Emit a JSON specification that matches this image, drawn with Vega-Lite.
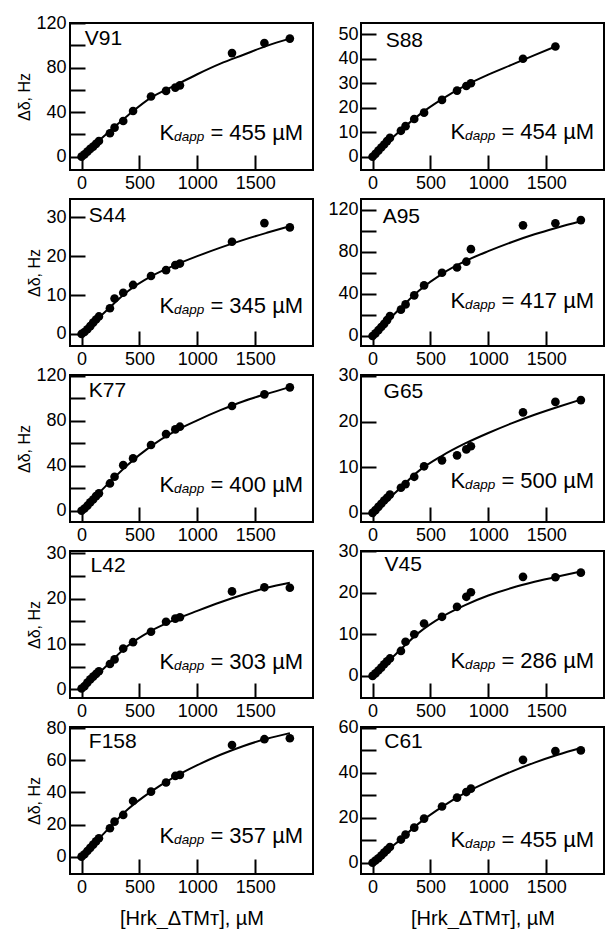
{
"$schema": "https://vega.github.io/schema/vega-lite/v6.json",
"padding": {"left": 15, "top": 13, "right": 0, "bottom": 0},
"columns": 2,
"spacing": {"row": 29, "column": 48},
"bounds": "flush",
"datasets": {
"pts": [
{"p":"V91","c":0,"d":0},{"p":"V91","c":25,"d":2},{"p":"V91","c":50,"d":4.5},{"p":"V91","c":75,"d":7},{"p":"V91","c":100,"d":9},{"p":"V91","c":125,"d":11.5},{"p":"V91","c":150,"d":14},{"p":"V91","c":245,"d":21},{"p":"V91","c":285,"d":26},{"p":"V91","c":360,"d":32},{"p":"V91","c":445,"d":41},{"p":"V91","c":600,"d":54},{"p":"V91","c":730,"d":59},{"p":"V91","c":810,"d":62},{"p":"V91","c":850,"d":64},{"p":"V91","c":1300,"d":93},{"p":"V91","c":1580,"d":102},{"p":"V91","c":1800,"d":106},
{"p":"S88","c":0,"d":0},{"p":"S88","c":25,"d":1.2},{"p":"S88","c":50,"d":2.5},{"p":"S88","c":75,"d":3.8},{"p":"S88","c":100,"d":5},{"p":"S88","c":125,"d":6.4},{"p":"S88","c":150,"d":7.7},{"p":"S88","c":245,"d":10.6},{"p":"S88","c":285,"d":12.5},{"p":"S88","c":360,"d":15.4},{"p":"S88","c":445,"d":18},{"p":"S88","c":600,"d":23.2},{"p":"S88","c":730,"d":27},{"p":"S88","c":810,"d":28.9},{"p":"S88","c":850,"d":30},{"p":"S88","c":1300,"d":40},{"p":"S88","c":1580,"d":45},
{"p":"S44","c":0,"d":0},{"p":"S44","c":25,"d":0.5},{"p":"S44","c":50,"d":1.2},{"p":"S44","c":75,"d":2},{"p":"S44","c":100,"d":2.9},{"p":"S44","c":125,"d":3.7},{"p":"S44","c":150,"d":4.5},{"p":"S44","c":245,"d":6.6},{"p":"S44","c":285,"d":9.1},{"p":"S44","c":360,"d":10.6},{"p":"S44","c":445,"d":12.6},{"p":"S44","c":600,"d":14.9},{"p":"S44","c":730,"d":16.4},{"p":"S44","c":810,"d":17.7},{"p":"S44","c":850,"d":18.1},{"p":"S44","c":1300,"d":23.7},{"p":"S44","c":1580,"d":28.5},{"p":"S44","c":1800,"d":27.4},
{"p":"A95","c":0,"d":0},{"p":"A95","c":25,"d":2.5},{"p":"A95","c":50,"d":5.5},{"p":"A95","c":75,"d":8.5},{"p":"A95","c":100,"d":11.5},{"p":"A95","c":125,"d":15},{"p":"A95","c":150,"d":19},{"p":"A95","c":245,"d":25},{"p":"A95","c":285,"d":30},{"p":"A95","c":360,"d":38.6},{"p":"A95","c":445,"d":48},{"p":"A95","c":600,"d":60},{"p":"A95","c":730,"d":65},{"p":"A95","c":810,"d":70.5},{"p":"A95","c":850,"d":82.4},{"p":"A95","c":1300,"d":105},{"p":"A95","c":1580,"d":107},{"p":"A95","c":1800,"d":110},
{"p":"K77","c":0,"d":0},{"p":"K77","c":25,"d":2},{"p":"K77","c":50,"d":4.5},{"p":"K77","c":75,"d":7.5},{"p":"K77","c":100,"d":10},{"p":"K77","c":125,"d":13},{"p":"K77","c":150,"d":15.5},{"p":"K77","c":245,"d":24.3},{"p":"K77","c":285,"d":30.3},{"p":"K77","c":360,"d":40.6},{"p":"K77","c":445,"d":46.6},{"p":"K77","c":600,"d":58.5},{"p":"K77","c":730,"d":68.2},{"p":"K77","c":810,"d":72.4},{"p":"K77","c":850,"d":74.8},{"p":"K77","c":1300,"d":93.2},{"p":"K77","c":1580,"d":103.6},{"p":"K77","c":1800,"d":109.8},
{"p":"G65","c":0,"d":0},{"p":"G65","c":25,"d":0.6},{"p":"G65","c":50,"d":1.3},{"p":"G65","c":75,"d":2},{"p":"G65","c":100,"d":2.7},{"p":"G65","c":125,"d":3.3},{"p":"G65","c":150,"d":4},{"p":"G65","c":245,"d":5.5},{"p":"G65","c":285,"d":6.3},{"p":"G65","c":360,"d":7.9},{"p":"G65","c":445,"d":10.2},{"p":"G65","c":600,"d":11.5},{"p":"G65","c":730,"d":12.6},{"p":"G65","c":810,"d":13.9},{"p":"G65","c":850,"d":14.6},{"p":"G65","c":1300,"d":22},{"p":"G65","c":1580,"d":24.3},{"p":"G65","c":1800,"d":24.7},
{"p":"L42","c":0,"d":0.2},{"p":"L42","c":25,"d":0.7},{"p":"L42","c":50,"d":1.5},{"p":"L42","c":75,"d":2.2},{"p":"L42","c":100,"d":2.8},{"p":"L42","c":125,"d":3.4},{"p":"L42","c":150,"d":4},{"p":"L42","c":245,"d":5.6},{"p":"L42","c":285,"d":6.6},{"p":"L42","c":360,"d":9},{"p":"L42","c":445,"d":10.4},{"p":"L42","c":600,"d":12.7},{"p":"L42","c":730,"d":14.9},{"p":"L42","c":810,"d":15.6},{"p":"L42","c":850,"d":15.9},{"p":"L42","c":1300,"d":21.6},{"p":"L42","c":1580,"d":22.5},{"p":"L42","c":1800,"d":22.4},
{"p":"V45","c":0,"d":0},{"p":"V45","c":25,"d":0.6},{"p":"V45","c":50,"d":1.3},{"p":"V45","c":75,"d":2},{"p":"V45","c":100,"d":2.8},{"p":"V45","c":125,"d":3.5},{"p":"V45","c":150,"d":4.2},{"p":"V45","c":245,"d":6},{"p":"V45","c":285,"d":8.2},{"p":"V45","c":360,"d":10},{"p":"V45","c":445,"d":12.6},{"p":"V45","c":600,"d":14.2},{"p":"V45","c":730,"d":16.6},{"p":"V45","c":810,"d":19},{"p":"V45","c":850,"d":20.1},{"p":"V45","c":1300,"d":23.8},{"p":"V45","c":1580,"d":23.7},{"p":"V45","c":1800,"d":24.8},
{"p":"F158","c":0,"d":0},{"p":"F158","c":25,"d":1.5},{"p":"F158","c":50,"d":3.5},{"p":"F158","c":75,"d":5.5},{"p":"F158","c":100,"d":7.5},{"p":"F158","c":125,"d":9.5},{"p":"F158","c":150,"d":11.5},{"p":"F158","c":245,"d":17.7},{"p":"F158","c":285,"d":21.8},{"p":"F158","c":360,"d":26},{"p":"F158","c":445,"d":34.7},{"p":"F158","c":600,"d":40.5},{"p":"F158","c":730,"d":46.2},{"p":"F158","c":810,"d":50.3},{"p":"F158","c":850,"d":51},{"p":"F158","c":1300,"d":69.6},{"p":"F158","c":1580,"d":73.2},{"p":"F158","c":1800,"d":73.8},
{"p":"C61","c":0,"d":0},{"p":"C61","c":25,"d":1},{"p":"C61","c":50,"d":2},{"p":"C61","c":75,"d":3.2},{"p":"C61","c":100,"d":4.5},{"p":"C61","c":125,"d":5.7},{"p":"C61","c":150,"d":7},{"p":"C61","c":245,"d":10.3},{"p":"C61","c":285,"d":12.5},{"p":"C61","c":360,"d":15.6},{"p":"C61","c":445,"d":19.6},{"p":"C61","c":600,"d":25},{"p":"C61","c":730,"d":28.9},{"p":"C61","c":810,"d":31.4},{"p":"C61","c":850,"d":32.9},{"p":"C61","c":1300,"d":45.7},{"p":"C61","c":1580,"d":49.6},{"p":"C61","c":1800,"d":49.9}
],
"fit": [
{"p":"V91","c":0,"d":0},{"p":"V91","c":200,"d":19},{"p":"V91","c":400,"d":37},{"p":"V91","c":600,"d":53},{"p":"V91","c":800,"d":63.5},{"p":"V91","c":1000,"d":74},{"p":"V91","c":1200,"d":83.5},{"p":"V91","c":1400,"d":91.5},{"p":"V91","c":1600,"d":99.5},{"p":"V91","c":1800,"d":106},
{"p":"S88","c":0,"d":0},{"p":"S88","c":200,"d":9},{"p":"S88","c":400,"d":17},{"p":"S88","c":600,"d":23.5},{"p":"S88","c":800,"d":29},{"p":"S88","c":1000,"d":33.5},{"p":"S88","c":1200,"d":37.5},{"p":"S88","c":1400,"d":41.5},{"p":"S88","c":1580,"d":45},
{"p":"S44","c":0,"d":0},{"p":"S44","c":200,"d":5.6},{"p":"S44","c":400,"d":11},{"p":"S44","c":600,"d":14.8},{"p":"S44","c":800,"d":17.6},{"p":"S44","c":1000,"d":20},{"p":"S44","c":1200,"d":22.2},{"p":"S44","c":1400,"d":24.2},{"p":"S44","c":1600,"d":26},{"p":"S44","c":1800,"d":27.7},
{"p":"A95","c":0,"d":0},{"p":"A95","c":200,"d":22},{"p":"A95","c":400,"d":43},{"p":"A95","c":600,"d":59},{"p":"A95","c":800,"d":71},{"p":"A95","c":1000,"d":80.5},{"p":"A95","c":1200,"d":89},{"p":"A95","c":1400,"d":96.5},{"p":"A95","c":1600,"d":103},{"p":"A95","c":1800,"d":109},
{"p":"K77","c":0,"d":0},{"p":"K77","c":200,"d":21},{"p":"K77","c":400,"d":41},{"p":"K77","c":600,"d":57.5},{"p":"K77","c":800,"d":70.5},{"p":"K77","c":1000,"d":80.5},{"p":"K77","c":1200,"d":89.5},{"p":"K77","c":1400,"d":97.5},{"p":"K77","c":1600,"d":104},{"p":"K77","c":1800,"d":110},
{"p":"G65","c":0,"d":0},{"p":"G65","c":200,"d":4.5},{"p":"G65","c":400,"d":9.2},{"p":"G65","c":600,"d":12.5},{"p":"G65","c":800,"d":15.2},{"p":"G65","c":1000,"d":17.5},{"p":"G65","c":1200,"d":19.6},{"p":"G65","c":1400,"d":21.5},{"p":"G65","c":1600,"d":23.2},{"p":"G65","c":1800,"d":24.8},
{"p":"L42","c":0,"d":0},{"p":"L42","c":200,"d":4.8},{"p":"L42","c":400,"d":9.6},{"p":"L42","c":600,"d":12.9},{"p":"L42","c":800,"d":15.3},{"p":"L42","c":1000,"d":17.3},{"p":"L42","c":1200,"d":19.2},{"p":"L42","c":1400,"d":20.9},{"p":"L42","c":1600,"d":22.4},{"p":"L42","c":1800,"d":23.5},
{"p":"V45","c":0,"d":0},{"p":"V45","c":200,"d":5.2},{"p":"V45","c":400,"d":10.4},{"p":"V45","c":600,"d":14.2},{"p":"V45","c":800,"d":17},{"p":"V45","c":1000,"d":19.3},{"p":"V45","c":1200,"d":21.1},{"p":"V45","c":1400,"d":22.6},{"p":"V45","c":1600,"d":23.9},{"p":"V45","c":1800,"d":25.1},
{"p":"F158","c":0,"d":0},{"p":"F158","c":200,"d":15},{"p":"F158","c":400,"d":29.5},{"p":"F158","c":600,"d":40.5},{"p":"F158","c":800,"d":49.5},{"p":"F158","c":1000,"d":57},{"p":"F158","c":1200,"d":63.5},{"p":"F158","c":1400,"d":69},{"p":"F158","c":1600,"d":73.5},{"p":"F158","c":1800,"d":77},
{"p":"C61","c":0,"d":0},{"p":"C61","c":200,"d":8.5},{"p":"C61","c":400,"d":17.5},{"p":"C61","c":600,"d":24.8},{"p":"C61","c":800,"d":31},{"p":"C61","c":1000,"d":36},{"p":"C61","c":1200,"d":40.5},{"p":"C61","c":1400,"d":44.5},{"p":"C61","c":1600,"d":48},{"p":"C61","c":1800,"d":51}
]
},
"concat": [
{"width":243,"height":147,"view":{"stroke":"black","strokeWidth":2},
 "encoding":{
  "x":{"field":"c","type":"quantitative","scale":{"domain":[-100,2000],"nice":false},"axis":{"title":null,"values":[0,500,1000,1500],"format":"d","tickSize":15,"offset":-15,"tickWidth":2,"tickColor":"black","domain":false,"grid":false,"labelPadding":4,"labelFlush":false,"labelOverlap":false,"labelFont":"Liberation Sans","labelFontSize":18,"labelColor":"black"}},
  "y":{"field":"d","type":"quantitative","scale":{"domain":[-12,120],"nice":false},"axis":{"title":"Δδ, Hz","values":[0,20,40,60,80,100,120],"labelExpr":"datum.value % 40 === 0 ? datum.label : ''","tickSize":15,"offset":-15,"tickWidth":2,"tickColor":"black","domain":false,"grid":false,"labelPadding":4,"labelFlush":false,"labelOverlap":false,"labelFont":"Liberation Sans","labelFontSize":18,"labelColor":"black","titleFont":"Liberation Sans","titleFontSize":16,"titleFontWeight":"normal","titleColor":"black","titlePadding":3}}},
 "layer":[
  {"data":{"name":"fit"},"transform":[{"filter":"datum.p==='V91'"}],"mark":{"type":"line","color":"black","strokeWidth":2,"interpolate":"monotone"}},
  {"data":{"name":"pts"},"transform":[{"filter":"datum.p==='V91'"}],"mark":{"type":"circle","size":75,"color":"black","opacity":1}},
  {"data":{"name":"pts"},"transform":[{"filter":"datum.p==='V91' && datum.c===0"}],"mark":{"type":"text","text":"V91","align":"left","baseline":"alphabetic","fontSize":21,"font":"Liberation Sans","color":"black"},"encoding":{"x":{"datum":28,"type":"quantitative"},"y":{"datum":100,"type":"quantitative"}}},
  {"data":{"name":"pts"},"transform":[{"filter":"datum.p==='V91' && datum.c===0"}],"mark":{"type":"text","text":"K","align":"right","baseline":"alphabetic","fontSize":22,"dx":-129,"font":"Liberation Sans","color":"black"},"encoding":{"x":{"datum":1915,"type":"quantitative"},"y":{"datum":14.8,"type":"quantitative"}}},
  {"data":{"name":"pts"},"transform":[{"filter":"datum.p==='V91' && datum.c===0"}],"mark":{"type":"text","text":"dapp","align":"right","baseline":"alphabetic","fontSize":13.5,"fontStyle":"italic","dx":-99,"dy":1,"font":"Liberation Sans","color":"black"},"encoding":{"x":{"datum":1915,"type":"quantitative"},"y":{"datum":14.8,"type":"quantitative"}}},
  {"data":{"name":"pts"},"transform":[{"filter":"datum.p==='V91' && datum.c===0"}],"mark":{"type":"text","text":"= 455 µM","align":"right","baseline":"alphabetic","fontSize":22,"font":"Liberation Sans","color":"black"},"encoding":{"x":{"datum":1915,"type":"quantitative"},"y":{"datum":14.8,"type":"quantitative"}}}
 ]},
{"width":243,"height":147,"view":{"stroke":"black","strokeWidth":2},
 "encoding":{
  "x":{"field":"c","type":"quantitative","scale":{"domain":[-100,2000],"nice":false},"axis":{"title":null,"values":[0,500,1000,1500],"format":"d","tickSize":15,"offset":-15,"tickWidth":2,"tickColor":"black","domain":false,"grid":false,"labelPadding":4,"labelFlush":false,"labelOverlap":false,"labelFont":"Liberation Sans","labelFontSize":18,"labelColor":"black"}},
  "y":{"field":"d","type":"quantitative","scale":{"domain":[-5.4,54.6],"nice":false},"axis":{"title":null,"values":[0,10,20,30,40,50],"tickSize":15,"offset":-15,"tickWidth":2,"tickColor":"black","domain":false,"grid":false,"labelPadding":3,"labelFlush":false,"labelOverlap":false,"labelFont":"Liberation Sans","labelFontSize":18,"labelColor":"black"}}},
 "layer":[
  {"data":{"name":"fit"},"transform":[{"filter":"datum.p==='S88'"}],"mark":{"type":"line","color":"black","strokeWidth":2,"interpolate":"monotone"}},
  {"data":{"name":"pts"},"transform":[{"filter":"datum.p==='S88'"}],"mark":{"type":"circle","size":75,"color":"black","opacity":1}},
  {"data":{"name":"pts"},"transform":[{"filter":"datum.p==='S88' && datum.c===0"}],"mark":{"type":"text","text":"S88","align":"left","baseline":"alphabetic","fontSize":21,"font":"Liberation Sans","color":"black"},"encoding":{"x":{"datum":113,"type":"quantitative"},"y":{"datum":44.9,"type":"quantitative"}}},
  {"data":{"name":"pts"},"transform":[{"filter":"datum.p==='S88' && datum.c===0"}],"mark":{"type":"text","text":"K","align":"right","baseline":"alphabetic","fontSize":22,"dx":-129,"font":"Liberation Sans","color":"black"},"encoding":{"x":{"datum":1915,"type":"quantitative"},"y":{"datum":7.1,"type":"quantitative"}}},
  {"data":{"name":"pts"},"transform":[{"filter":"datum.p==='S88' && datum.c===0"}],"mark":{"type":"text","text":"dapp","align":"right","baseline":"alphabetic","fontSize":13.5,"fontStyle":"italic","dx":-99,"dy":1,"font":"Liberation Sans","color":"black"},"encoding":{"x":{"datum":1915,"type":"quantitative"},"y":{"datum":7.1,"type":"quantitative"}}},
  {"data":{"name":"pts"},"transform":[{"filter":"datum.p==='S88' && datum.c===0"}],"mark":{"type":"text","text":"= 454 µM","align":"right","baseline":"alphabetic","fontSize":22,"font":"Liberation Sans","color":"black"},"encoding":{"x":{"datum":1915,"type":"quantitative"},"y":{"datum":7.1,"type":"quantitative"}}}
 ]},
{"width":243,"height":147,"view":{"stroke":"black","strokeWidth":2},
 "encoding":{
  "x":{"field":"c","type":"quantitative","scale":{"domain":[-100,2000],"nice":false},"axis":{"title":null,"values":[0,500,1000,1500],"format":"d","tickSize":15,"offset":-15,"tickWidth":2,"tickColor":"black","domain":false,"grid":false,"labelPadding":4,"labelFlush":false,"labelOverlap":false,"labelFont":"Liberation Sans","labelFontSize":18,"labelColor":"black"}},
  "y":{"field":"d","type":"quantitative","scale":{"domain":[-3.1,34.7],"nice":false},"axis":{"title":"Δδ, Hz","values":[0,10,20,30],"tickSize":15,"offset":-15,"tickWidth":2,"tickColor":"black","domain":false,"grid":false,"labelPadding":4,"labelFlush":false,"labelOverlap":false,"labelFont":"Liberation Sans","labelFontSize":18,"labelColor":"black","titleFont":"Liberation Sans","titleFontSize":16,"titleFontWeight":"normal","titleColor":"black","titlePadding":3}}},
 "layer":[
  {"data":{"name":"fit"},"transform":[{"filter":"datum.p==='S44'"}],"mark":{"type":"line","color":"black","strokeWidth":2,"interpolate":"monotone"}},
  {"data":{"name":"pts"},"transform":[{"filter":"datum.p==='S44'"}],"mark":{"type":"circle","size":75,"color":"black","opacity":1}},
  {"data":{"name":"pts"},"transform":[{"filter":"datum.p==='S44' && datum.c===0"}],"mark":{"type":"text","text":"S44","align":"left","baseline":"alphabetic","fontSize":21,"font":"Liberation Sans","color":"black"},"encoding":{"x":{"datum":63,"type":"quantitative"},"y":{"datum":28.9,"type":"quantitative"}}},
  {"data":{"name":"pts"},"transform":[{"filter":"datum.p==='S44' && datum.c===0"}],"mark":{"type":"text","text":"K","align":"right","baseline":"alphabetic","fontSize":22,"dx":-129,"font":"Liberation Sans","color":"black"},"encoding":{"x":{"datum":1915,"type":"quantitative"},"y":{"datum":5.3,"type":"quantitative"}}},
  {"data":{"name":"pts"},"transform":[{"filter":"datum.p==='S44' && datum.c===0"}],"mark":{"type":"text","text":"dapp","align":"right","baseline":"alphabetic","fontSize":13.5,"fontStyle":"italic","dx":-99,"dy":1,"font":"Liberation Sans","color":"black"},"encoding":{"x":{"datum":1915,"type":"quantitative"},"y":{"datum":5.3,"type":"quantitative"}}},
  {"data":{"name":"pts"},"transform":[{"filter":"datum.p==='S44' && datum.c===0"}],"mark":{"type":"text","text":"= 345 µM","align":"right","baseline":"alphabetic","fontSize":22,"font":"Liberation Sans","color":"black"},"encoding":{"x":{"datum":1915,"type":"quantitative"},"y":{"datum":5.3,"type":"quantitative"}}}
 ]},
{"width":243,"height":147,"view":{"stroke":"black","strokeWidth":2},
 "encoding":{
  "x":{"field":"c","type":"quantitative","scale":{"domain":[-100,2000],"nice":false},"axis":{"title":null,"values":[0,500,1000,1500],"format":"d","tickSize":15,"offset":-15,"tickWidth":2,"tickColor":"black","domain":false,"grid":false,"labelPadding":4,"labelFlush":false,"labelOverlap":false,"labelFont":"Liberation Sans","labelFontSize":18,"labelColor":"black"}},
  "y":{"field":"d","type":"quantitative","scale":{"domain":[-9.5,130],"nice":false},"axis":{"title":null,"values":[0,20,40,60,80,100,120],"labelExpr":"datum.value % 40 === 0 ? datum.label : ''","tickSize":15,"offset":-15,"tickWidth":2,"tickColor":"black","domain":false,"grid":false,"labelPadding":3,"labelFlush":false,"labelOverlap":false,"labelFont":"Liberation Sans","labelFontSize":18,"labelColor":"black"}}},
 "layer":[
  {"data":{"name":"fit"},"transform":[{"filter":"datum.p==='A95'"}],"mark":{"type":"line","color":"black","strokeWidth":2,"interpolate":"monotone"}},
  {"data":{"name":"pts"},"transform":[{"filter":"datum.p==='A95'"}],"mark":{"type":"circle","size":75,"color":"black","opacity":1}},
  {"data":{"name":"pts"},"transform":[{"filter":"datum.p==='A95' && datum.c===0"}],"mark":{"type":"text","text":"A95","align":"left","baseline":"alphabetic","fontSize":21,"font":"Liberation Sans","color":"black"},"encoding":{"x":{"datum":87,"type":"quantitative"},"y":{"datum":107.4,"type":"quantitative"}}},
  {"data":{"name":"pts"},"transform":[{"filter":"datum.p==='A95' && datum.c===0"}],"mark":{"type":"text","text":"K","align":"right","baseline":"alphabetic","fontSize":22,"dx":-129,"font":"Liberation Sans","color":"black"},"encoding":{"x":{"datum":1915,"type":"quantitative"},"y":{"datum":26.3,"type":"quantitative"}}},
  {"data":{"name":"pts"},"transform":[{"filter":"datum.p==='A95' && datum.c===0"}],"mark":{"type":"text","text":"dapp","align":"right","baseline":"alphabetic","fontSize":13.5,"fontStyle":"italic","dx":-99,"dy":1,"font":"Liberation Sans","color":"black"},"encoding":{"x":{"datum":1915,"type":"quantitative"},"y":{"datum":26.3,"type":"quantitative"}}},
  {"data":{"name":"pts"},"transform":[{"filter":"datum.p==='A95' && datum.c===0"}],"mark":{"type":"text","text":"= 417 µM","align":"right","baseline":"alphabetic","fontSize":22,"font":"Liberation Sans","color":"black"},"encoding":{"x":{"datum":1915,"type":"quantitative"},"y":{"datum":26.3,"type":"quantitative"}}}
 ]},
{"width":243,"height":147,"view":{"stroke":"black","strokeWidth":2},
 "encoding":{
  "x":{"field":"c","type":"quantitative","scale":{"domain":[-100,2000],"nice":false},"axis":{"title":null,"values":[0,500,1000,1500],"format":"d","tickSize":15,"offset":-15,"tickWidth":2,"tickColor":"black","domain":false,"grid":false,"labelPadding":4,"labelFlush":false,"labelOverlap":false,"labelFont":"Liberation Sans","labelFontSize":18,"labelColor":"black"}},
  "y":{"field":"d","type":"quantitative","scale":{"domain":[-10,120.8],"nice":false},"axis":{"title":"Δδ, Hz","values":[0,20,40,60,80,100,120],"labelExpr":"datum.value % 40 === 0 ? datum.label : ''","tickSize":15,"offset":-15,"tickWidth":2,"tickColor":"black","domain":false,"grid":false,"labelPadding":4,"labelFlush":false,"labelOverlap":false,"labelFont":"Liberation Sans","labelFontSize":18,"labelColor":"black","titleFont":"Liberation Sans","titleFontSize":16,"titleFontWeight":"normal","titleColor":"black","titlePadding":3}}},
 "layer":[
  {"data":{"name":"fit"},"transform":[{"filter":"datum.p==='K77'"}],"mark":{"type":"line","color":"black","strokeWidth":2,"interpolate":"monotone"}},
  {"data":{"name":"pts"},"transform":[{"filter":"datum.p==='K77'"}],"mark":{"type":"circle","size":75,"color":"black","opacity":1}},
  {"data":{"name":"pts"},"transform":[{"filter":"datum.p==='K77' && datum.c===0"}],"mark":{"type":"text","text":"K77","align":"left","baseline":"alphabetic","fontSize":21,"font":"Liberation Sans","color":"black"},"encoding":{"x":{"datum":63,"type":"quantitative"},"y":{"datum":101,"type":"quantitative"}}},
  {"data":{"name":"pts"},"transform":[{"filter":"datum.p==='K77' && datum.c===0"}],"mark":{"type":"text","text":"K","align":"right","baseline":"alphabetic","fontSize":22,"dx":-129,"font":"Liberation Sans","color":"black"},"encoding":{"x":{"datum":1915,"type":"quantitative"},"y":{"datum":16.9,"type":"quantitative"}}},
  {"data":{"name":"pts"},"transform":[{"filter":"datum.p==='K77' && datum.c===0"}],"mark":{"type":"text","text":"dapp","align":"right","baseline":"alphabetic","fontSize":13.5,"fontStyle":"italic","dx":-99,"dy":1,"font":"Liberation Sans","color":"black"},"encoding":{"x":{"datum":1915,"type":"quantitative"},"y":{"datum":16.9,"type":"quantitative"}}},
  {"data":{"name":"pts"},"transform":[{"filter":"datum.p==='K77' && datum.c===0"}],"mark":{"type":"text","text":"= 400 µM","align":"right","baseline":"alphabetic","fontSize":22,"font":"Liberation Sans","color":"black"},"encoding":{"x":{"datum":1915,"type":"quantitative"},"y":{"datum":16.9,"type":"quantitative"}}}
 ]},
{"width":243,"height":147,"view":{"stroke":"black","strokeWidth":2},
 "encoding":{
  "x":{"field":"c","type":"quantitative","scale":{"domain":[-100,2000],"nice":false},"axis":{"title":null,"values":[0,500,1000,1500],"format":"d","tickSize":15,"offset":-15,"tickWidth":2,"tickColor":"black","domain":false,"grid":false,"labelPadding":4,"labelFlush":false,"labelOverlap":false,"labelFont":"Liberation Sans","labelFontSize":18,"labelColor":"black"}},
  "y":{"field":"d","type":"quantitative","scale":{"domain":[-2,30.2],"nice":false},"axis":{"title":null,"values":[0,10,20,30],"tickSize":15,"offset":-15,"tickWidth":2,"tickColor":"black","domain":false,"grid":false,"labelPadding":3,"labelFlush":false,"labelOverlap":false,"labelFont":"Liberation Sans","labelFontSize":18,"labelColor":"black"}}},
 "layer":[
  {"data":{"name":"fit"},"transform":[{"filter":"datum.p==='G65'"}],"mark":{"type":"line","color":"black","strokeWidth":2,"interpolate":"monotone"}},
  {"data":{"name":"pts"},"transform":[{"filter":"datum.p==='G65'"}],"mark":{"type":"circle","size":75,"color":"black","opacity":1}},
  {"data":{"name":"pts"},"transform":[{"filter":"datum.p==='G65' && datum.c===0"}],"mark":{"type":"text","text":"G65","align":"left","baseline":"alphabetic","fontSize":21,"font":"Liberation Sans","color":"black"},"encoding":{"x":{"datum":95,"type":"quantitative"},"y":{"datum":25.1,"type":"quantitative"}}},
  {"data":{"name":"pts"},"transform":[{"filter":"datum.p==='G65' && datum.c===0"}],"mark":{"type":"text","text":"K","align":"right","baseline":"alphabetic","fontSize":22,"dx":-129,"font":"Liberation Sans","color":"black"},"encoding":{"x":{"datum":1915,"type":"quantitative"},"y":{"datum":5.35,"type":"quantitative"}}},
  {"data":{"name":"pts"},"transform":[{"filter":"datum.p==='G65' && datum.c===0"}],"mark":{"type":"text","text":"dapp","align":"right","baseline":"alphabetic","fontSize":13.5,"fontStyle":"italic","dx":-99,"dy":1,"font":"Liberation Sans","color":"black"},"encoding":{"x":{"datum":1915,"type":"quantitative"},"y":{"datum":5.35,"type":"quantitative"}}},
  {"data":{"name":"pts"},"transform":[{"filter":"datum.p==='G65' && datum.c===0"}],"mark":{"type":"text","text":"= 500 µM","align":"right","baseline":"alphabetic","fontSize":22,"font":"Liberation Sans","color":"black"},"encoding":{"x":{"datum":1915,"type":"quantitative"},"y":{"datum":5.35,"type":"quantitative"}}}
 ]},
{"width":243,"height":147,"view":{"stroke":"black","strokeWidth":2},
 "encoding":{
  "x":{"field":"c","type":"quantitative","scale":{"domain":[-100,2000],"nice":false},"axis":{"title":null,"values":[0,500,1000,1500],"format":"d","tickSize":15,"offset":-15,"tickWidth":2,"tickColor":"black","domain":false,"grid":false,"labelPadding":4,"labelFlush":false,"labelOverlap":false,"labelFont":"Liberation Sans","labelFontSize":18,"labelColor":"black"}},
  "y":{"field":"d","type":"quantitative","scale":{"domain":[-1.9,30.5],"nice":false},"axis":{"title":"Δδ, Hz","values":[0,5,10,15,20,25,30],"labelExpr":"datum.value % 10 === 0 ? datum.label : ''","tickSize":15,"offset":-15,"tickWidth":2,"tickColor":"black","domain":false,"grid":false,"labelPadding":4,"labelFlush":false,"labelOverlap":false,"labelFont":"Liberation Sans","labelFontSize":18,"labelColor":"black","titleFont":"Liberation Sans","titleFontSize":16,"titleFontWeight":"normal","titleColor":"black","titlePadding":3}}},
 "layer":[
  {"data":{"name":"fit"},"transform":[{"filter":"datum.p==='L42'"}],"mark":{"type":"line","color":"black","strokeWidth":2,"interpolate":"monotone"}},
  {"data":{"name":"pts"},"transform":[{"filter":"datum.p==='L42'"}],"mark":{"type":"circle","size":75,"color":"black","opacity":1}},
  {"data":{"name":"pts"},"transform":[{"filter":"datum.p==='L42' && datum.c===0"}],"mark":{"type":"text","text":"L42","align":"left","baseline":"alphabetic","fontSize":21,"font":"Liberation Sans","color":"black"},"encoding":{"x":{"datum":78,"type":"quantitative"},"y":{"datum":25.8,"type":"quantitative"}}},
  {"data":{"name":"pts"},"transform":[{"filter":"datum.p==='L42' && datum.c===0"}],"mark":{"type":"text","text":"K","align":"right","baseline":"alphabetic","fontSize":22,"dx":-129,"font":"Liberation Sans","color":"black"},"encoding":{"x":{"datum":1915,"type":"quantitative"},"y":{"datum":4.6,"type":"quantitative"}}},
  {"data":{"name":"pts"},"transform":[{"filter":"datum.p==='L42' && datum.c===0"}],"mark":{"type":"text","text":"dapp","align":"right","baseline":"alphabetic","fontSize":13.5,"fontStyle":"italic","dx":-99,"dy":1,"font":"Liberation Sans","color":"black"},"encoding":{"x":{"datum":1915,"type":"quantitative"},"y":{"datum":4.6,"type":"quantitative"}}},
  {"data":{"name":"pts"},"transform":[{"filter":"datum.p==='L42' && datum.c===0"}],"mark":{"type":"text","text":"= 303 µM","align":"right","baseline":"alphabetic","fontSize":22,"font":"Liberation Sans","color":"black"},"encoding":{"x":{"datum":1915,"type":"quantitative"},"y":{"datum":4.6,"type":"quantitative"}}}
 ]},
{"width":243,"height":147,"view":{"stroke":"black","strokeWidth":2},
 "encoding":{
  "x":{"field":"c","type":"quantitative","scale":{"domain":[-100,2000],"nice":false},"axis":{"title":null,"values":[0,500,1000,1500],"format":"d","tickSize":15,"offset":-15,"tickWidth":2,"tickColor":"black","domain":false,"grid":false,"labelPadding":4,"labelFlush":false,"labelOverlap":false,"labelFont":"Liberation Sans","labelFontSize":18,"labelColor":"black"}},
  "y":{"field":"d","type":"quantitative","scale":{"domain":[-5.3,30],"nice":false},"axis":{"title":null,"values":[0,10,20,30],"tickSize":15,"offset":-15,"tickWidth":2,"tickColor":"black","domain":false,"grid":false,"labelPadding":3,"labelFlush":false,"labelOverlap":false,"labelFont":"Liberation Sans","labelFontSize":18,"labelColor":"black"}}},
 "layer":[
  {"data":{"name":"fit"},"transform":[{"filter":"datum.p==='V45'"}],"mark":{"type":"line","color":"black","strokeWidth":2,"interpolate":"monotone"}},
  {"data":{"name":"pts"},"transform":[{"filter":"datum.p==='V45'"}],"mark":{"type":"circle","size":75,"color":"black","opacity":1}},
  {"data":{"name":"pts"},"transform":[{"filter":"datum.p==='V45' && datum.c===0"}],"mark":{"type":"text","text":"V45","align":"left","baseline":"alphabetic","fontSize":21,"font":"Liberation Sans","color":"black"},"encoding":{"x":{"datum":104,"type":"quantitative"},"y":{"datum":25.3,"type":"quantitative"}}},
  {"data":{"name":"pts"},"transform":[{"filter":"datum.p==='V45' && datum.c===0"}],"mark":{"type":"text","text":"K","align":"right","baseline":"alphabetic","fontSize":22,"dx":-129,"font":"Liberation Sans","color":"black"},"encoding":{"x":{"datum":1915,"type":"quantitative"},"y":{"datum":1.8,"type":"quantitative"}}},
  {"data":{"name":"pts"},"transform":[{"filter":"datum.p==='V45' && datum.c===0"}],"mark":{"type":"text","text":"dapp","align":"right","baseline":"alphabetic","fontSize":13.5,"fontStyle":"italic","dx":-99,"dy":1,"font":"Liberation Sans","color":"black"},"encoding":{"x":{"datum":1915,"type":"quantitative"},"y":{"datum":1.8,"type":"quantitative"}}},
  {"data":{"name":"pts"},"transform":[{"filter":"datum.p==='V45' && datum.c===0"}],"mark":{"type":"text","text":"= 286 µM","align":"right","baseline":"alphabetic","fontSize":22,"font":"Liberation Sans","color":"black"},"encoding":{"x":{"datum":1915,"type":"quantitative"},"y":{"datum":1.8,"type":"quantitative"}}}
 ]},
{"width":243,"height":147,"view":{"stroke":"black","strokeWidth":2},
 "encoding":{
  "x":{"field":"c","type":"quantitative","scale":{"domain":[-100,2000],"nice":false},"axis":{"title":"[Hrk_ΔTMᴛ], µM","values":[0,500,1000,1500],"format":"d","tickSize":15,"offset":-15,"tickWidth":2,"tickColor":"black","domain":false,"grid":false,"labelPadding":4,"labelFlush":false,"labelOverlap":false,"labelFont":"Liberation Sans","labelFontSize":18,"labelColor":"black","titleFont":"Liberation Sans","titleFontSize":20,"titleFontWeight":"normal","titleColor":"black","titlePadding":12}},
  "y":{"field":"d","type":"quantitative","scale":{"domain":[-10.8,80.8],"nice":false},"axis":{"title":"Δδ, Hz","values":[0,20,40,60,80],"tickSize":15,"offset":-15,"tickWidth":2,"tickColor":"black","domain":false,"grid":false,"labelPadding":4,"labelFlush":false,"labelOverlap":false,"labelFont":"Liberation Sans","labelFontSize":18,"labelColor":"black","titleFont":"Liberation Sans","titleFontSize":16,"titleFontWeight":"normal","titleColor":"black","titlePadding":3}}},
 "layer":[
  {"data":{"name":"fit"},"transform":[{"filter":"datum.p==='F158'"}],"mark":{"type":"line","color":"black","strokeWidth":2,"interpolate":"monotone"}},
  {"data":{"name":"pts"},"transform":[{"filter":"datum.p==='F158'"}],"mark":{"type":"circle","size":75,"color":"black","opacity":1}},
  {"data":{"name":"pts"},"transform":[{"filter":"datum.p==='F158' && datum.c===0"}],"mark":{"type":"text","text":"F158","align":"left","baseline":"alphabetic","fontSize":21,"font":"Liberation Sans","color":"black"},"encoding":{"x":{"datum":63,"type":"quantitative"},"y":{"datum":67.5,"type":"quantitative"}}},
  {"data":{"name":"pts"},"transform":[{"filter":"datum.p==='F158' && datum.c===0"}],"mark":{"type":"text","text":"K","align":"right","baseline":"alphabetic","fontSize":22,"dx":-129,"font":"Liberation Sans","color":"black"},"encoding":{"x":{"datum":1915,"type":"quantitative"},"y":{"datum":8.3,"type":"quantitative"}}},
  {"data":{"name":"pts"},"transform":[{"filter":"datum.p==='F158' && datum.c===0"}],"mark":{"type":"text","text":"dapp","align":"right","baseline":"alphabetic","fontSize":13.5,"fontStyle":"italic","dx":-99,"dy":1,"font":"Liberation Sans","color":"black"},"encoding":{"x":{"datum":1915,"type":"quantitative"},"y":{"datum":8.3,"type":"quantitative"}}},
  {"data":{"name":"pts"},"transform":[{"filter":"datum.p==='F158' && datum.c===0"}],"mark":{"type":"text","text":"= 357 µM","align":"right","baseline":"alphabetic","fontSize":22,"font":"Liberation Sans","color":"black"},"encoding":{"x":{"datum":1915,"type":"quantitative"},"y":{"datum":8.3,"type":"quantitative"}}}
 ]},
{"width":243,"height":147,"view":{"stroke":"black","strokeWidth":2},
 "encoding":{
  "x":{"field":"c","type":"quantitative","scale":{"domain":[-100,2000],"nice":false},"axis":{"title":"[Hrk_ΔTMᴛ], µM","values":[0,500,1000,1500],"format":"d","tickSize":15,"offset":-15,"tickWidth":2,"tickColor":"black","domain":false,"grid":false,"labelPadding":4,"labelFlush":false,"labelOverlap":false,"labelFont":"Liberation Sans","labelFontSize":18,"labelColor":"black","titleFont":"Liberation Sans","titleFontSize":20,"titleFontWeight":"normal","titleColor":"black","titlePadding":12}},
  "y":{"field":"d","type":"quantitative","scale":{"domain":[-5,60.3],"nice":false},"axis":{"title":null,"values":[0,10,20,30,40,50,60],"labelExpr":"datum.value % 20 === 0 ? datum.label : ''","tickSize":15,"offset":-15,"tickWidth":2,"tickColor":"black","domain":false,"grid":false,"labelPadding":3,"labelFlush":false,"labelOverlap":false,"labelFont":"Liberation Sans","labelFontSize":18,"labelColor":"black"}}},
 "layer":[
  {"data":{"name":"fit"},"transform":[{"filter":"datum.p==='C61'"}],"mark":{"type":"line","color":"black","strokeWidth":2,"interpolate":"monotone"}},
  {"data":{"name":"pts"},"transform":[{"filter":"datum.p==='C61'"}],"mark":{"type":"circle","size":75,"color":"black","opacity":1}},
  {"data":{"name":"pts"},"transform":[{"filter":"datum.p==='C61' && datum.c===0"}],"mark":{"type":"text","text":"C61","align":"left","baseline":"alphabetic","fontSize":21,"font":"Liberation Sans","color":"black"},"encoding":{"x":{"datum":101,"type":"quantitative"},"y":{"datum":50.8,"type":"quantitative"}}},
  {"data":{"name":"pts"},"transform":[{"filter":"datum.p==='C61' && datum.c===0"}],"mark":{"type":"text","text":"K","align":"right","baseline":"alphabetic","fontSize":22,"dx":-129,"font":"Liberation Sans","color":"black"},"encoding":{"x":{"datum":1915,"type":"quantitative"},"y":{"datum":7.1,"type":"quantitative"}}},
  {"data":{"name":"pts"},"transform":[{"filter":"datum.p==='C61' && datum.c===0"}],"mark":{"type":"text","text":"dapp","align":"right","baseline":"alphabetic","fontSize":13.5,"fontStyle":"italic","dx":-99,"dy":1,"font":"Liberation Sans","color":"black"},"encoding":{"x":{"datum":1915,"type":"quantitative"},"y":{"datum":7.1,"type":"quantitative"}}},
  {"data":{"name":"pts"},"transform":[{"filter":"datum.p==='C61' && datum.c===0"}],"mark":{"type":"text","text":"= 455 µM","align":"right","baseline":"alphabetic","fontSize":22,"font":"Liberation Sans","color":"black"},"encoding":{"x":{"datum":1915,"type":"quantitative"},"y":{"datum":7.1,"type":"quantitative"}}}
 ]}
]
}
